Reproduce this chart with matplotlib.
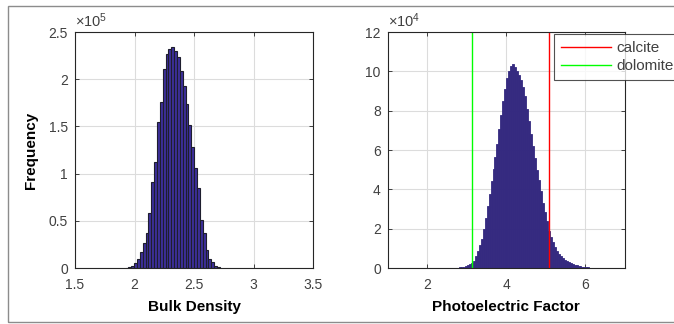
import numpy as np
import matplotlib
matplotlib.use("Agg")
import matplotlib.pyplot as plt
from matplotlib.patches import Rectangle

plt.rcParams['font.family'] = ['Liberation Sans', 'DejaVu Sans']
plt.rcParams['mathtext.fontset'] = 'custom'
plt.rcParams['mathtext.rm'] = 'Liberation Sans'
plt.rcParams['mathtext.default'] = 'regular'

# Bulk density histogram (counts per bin)
rho_bin_start = 1.925
rho_bin_width = 0.024
rho_counts = np.array([
    0.003, 0.008, 0.02, 0.05, 0.10, 0.17, 0.26, 0.37, 0.58, 0.91, 1.12,
    1.55, 1.76, 2.11, 2.27, 2.32, 2.34, 2.30, 2.23, 2.09, 1.93, 1.74,
    1.51, 1.28, 1.06, 0.85, 0.51, 0.37, 0.19, 0.10, 0.06, 0.025, 0.008,
]) * 1e5

# Photoelectric factor histogram (counts per bin)
pe_bin_start = 2.3
pe_bin_width = 0.05
pe_counts = np.array([
    0.002, 0.002, 0.003, 0.003, 0.004, 0.005, 0.007, 0.01, 0.015, 0.02, 0.03,
    0.05, 0.07, 0.10, 0.13, 0.18, 0.26, 0.38, 0.6, 0.85, 1.15, 1.5, 2.0,
    2.55, 3.15, 3.75, 4.4, 5.05, 5.65, 6.3, 7.05, 7.8, 8.5, 9.1, 9.65,
    10.0, 10.25, 10.35, 10.2, 10.0, 9.8, 9.55, 9.2, 8.75, 8.1, 7.45, 6.8,
    6.2, 5.6, 5.0, 4.45, 3.9, 3.3, 2.85, 2.4, 1.9, 1.58, 1.3, 1.06, 0.87,
    0.72, 0.6, 0.5, 0.42, 0.35, 0.29, 0.24, 0.2, 0.165, 0.135, 0.11, 0.085,
    0.065, 0.05, 0.04, 0.03, 0.025, 0.02, 0.015, 0.012, 0.01, 0.008,
    0.006, 0.005, 0.004, 0.004, 0.003, 0.003, 0.002, 0.002, 0.002, 0.001,
    0.001, 0.001,
]) * 1e4

# Mineral reference lines
minerals = ['calcite', 'dolomite']
mineral_pe = [5.08, 3.14]
mineral_colors = ['#ff0000', '#00ff00']

rho_ticks = [1.5, 2, 2.5, 3, 3.5]
rho_yticks = [0, 0.5, 1, 1.5, 2, 2.5]
pe_ticks = [2, 4, 6]
pe_yticks = [0, 2, 4, 6, 8, 10, 12]

AX_COLOR = '#262626'
TICK_COLOR = '#404040'
PE_COLOR = '#352a80'

fig = plt.figure(figsize=(6.74, 3.24), dpi=100)
fig.patch.set_facecolor('white')

# thin frame round the figure (open on the right, where it runs off the canvas)
fig.patches.append(Rectangle((8 / 674, 2 / 324), 1.2, 316 / 324,
                             transform=fig.transFigure, fill=False,
                             edgecolor='#8c8c8c', linewidth=1.0))


def style_axes(ax):
    ax.set_axisbelow(True)
    ax.grid(True, color='#dcdcdc', linewidth=0.8)
    for s in ax.spines.values():
        s.set_color(AX_COLOR)
        s.set_linewidth(0.8)
    ax.tick_params(direction='in', top=True, right=True, length=3,
                   width=0.6, color=AX_COLOR, labelcolor=TICK_COLOR,
                   labelsize=10)
    ax.tick_params(axis='x', pad=7)
    ax.tick_params(axis='y', pad=5)


# Left: bulk density
ax1 = fig.add_axes([75 / 674, 56 / 324, 238 / 674, 236 / 324])
rho_centers = rho_bin_start + rho_bin_width * (np.arange(len(rho_counts)) + 0.5)
ax1.bar(rho_centers, rho_counts, width=rho_bin_width, color='#3d2f9c',
        edgecolor='#1e1e2e', linewidth=0.8)
ax1.set_xlim(1.5, 3.5)
ax1.set_ylim(0, 2.5e5)
ax1.set_xticks(rho_ticks)
ax1.set_xticklabels(['1.5', '2', '2.5', '3', '3.5'])
ax1.set_yticks([v * 1e5 for v in rho_yticks])
ax1.set_yticklabels(['0', '0.5', '1', '1.5', '2', '2.5'])
style_axes(ax1)
ax1.set_xlabel('Bulk Density', fontsize=11, fontweight='bold', labelpad=6)
ax1.set_ylabel('Frequency', fontsize=11, fontweight='bold', labelpad=8)
ax1.text(0.0, 1.008, r'$\times 10^{5}$', transform=ax1.transAxes,
         fontsize=10.5, color=TICK_COLOR, ha='left', va='bottom')

# Right: photoelectric factor
ax2 = fig.add_axes([387.7 / 674, 56 / 324, 237.3 / 674, 236 / 324])
pe_centers = pe_bin_start + pe_bin_width * (np.arange(len(pe_counts)) + 0.5)
ax2.bar(pe_centers, pe_counts, width=pe_bin_width, color=PE_COLOR,
        edgecolor=PE_COLOR, linewidth=0.6)
lines = []
for name, pe, col in zip(minerals, mineral_pe, mineral_colors):
    lines.append(ax2.axvline(pe, color=col, linewidth=1.0, label=name))
ax2.set_xlim(1, 7)
ax2.set_ylim(0, 12e4)
ax2.set_xticks(pe_ticks)
ax2.set_xticklabels(['2', '4', '6'])
ax2.set_yticks([v * 1e4 for v in pe_yticks])
ax2.set_yticklabels([str(v) for v in pe_yticks])
style_axes(ax2)
ax2.set_xlabel('Photoelectric Factor', fontsize=11, fontweight='bold',
               labelpad=6)
ax2.text(0.0, 1.008, r'$\times 10^{4}$', transform=ax2.transAxes,
         fontsize=10.5, color=TICK_COLOR, ha='left', va='bottom')

leg = fig.legend(handles=lines, labels=minerals, loc='upper left',
                 bbox_to_anchor=(553.7 / 674, 1 - 34 / 324),
                 bbox_transform=fig.transFigure, fontsize=11,
                 frameon=True, fancybox=False, handlelength=3.3,
                 handletextpad=0.35, borderpad=0.45, labelspacing=0.3,
                 borderaxespad=0)
leg.get_frame().set_edgecolor(AX_COLOR)
leg.get_frame().set_linewidth(0.8)
for t in leg.get_texts():
    t.set_color(TICK_COLOR)

fig.savefig('out.png', dpi=100)
